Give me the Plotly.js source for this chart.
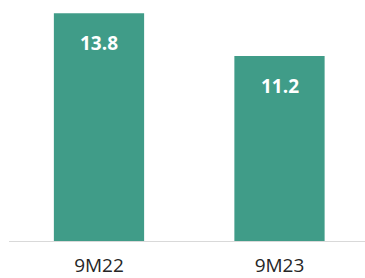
<!DOCTYPE html>
<html>
<head>
<meta charset="utf-8">
<script src="https://cdn.plot.ly/plotly-3.0.1.min.js"></script>
<style>html,body{margin:0;padding:0;background:#fff;}#chart{width:365px;height:278px;}</style>
</head>
<body>
<div id="chart"></div>
<script>
const categories = ["9M22", "9M23"];
const values = [13.8, 11.2];
const labels = ["13.8", "11.2"];

const barColor = "#409c88";

const trace = {
  type: "bar",
  x: [0, 1],
  y: values,
  width: 0.5,
  marker: {color: barColor},
  hoverinfo: "none"
};

const annotations = values.map((v, i) => ({
  x: i, y: v, xref: "x", yref: "y",
  text: "<b>" + labels[i] + "</b>",
  showarrow: false,
  yanchor: "top",
  yshift: -15,
  font: {family: "Open Sans", size: 19, color: "#ffffff"}
}));

const layout = {
  width: 365, height: 278,
  margin: {l: 9, r: 0, t: 0, b: 36.5},
  paper_bgcolor: "#fff", plot_bgcolor: "#fff",
  showlegend: false,
  xaxis: {
    range: [-0.4986, 1.4737],
    tickvals: [0, 1],
    ticktext: categories,
    showline: true, linecolor: "#d9d9d9", linewidth: 1,
    showgrid: false, zeroline: false, ticks: "",
    ticklabelstandoff: 7,
    tickfont: {family: "Open Sans", size: 19, color: "#262626"},
    fixedrange: true
  },
  yaxis: {
    range: [0, 14.6],
    visible: false, showgrid: false, zeroline: false,
    fixedrange: true
  },
  annotations: annotations
};

Plotly.newPlot("chart", [trace], layout, {staticPlot: true, displayModeBar: false});
</script>
</body>
</html>
